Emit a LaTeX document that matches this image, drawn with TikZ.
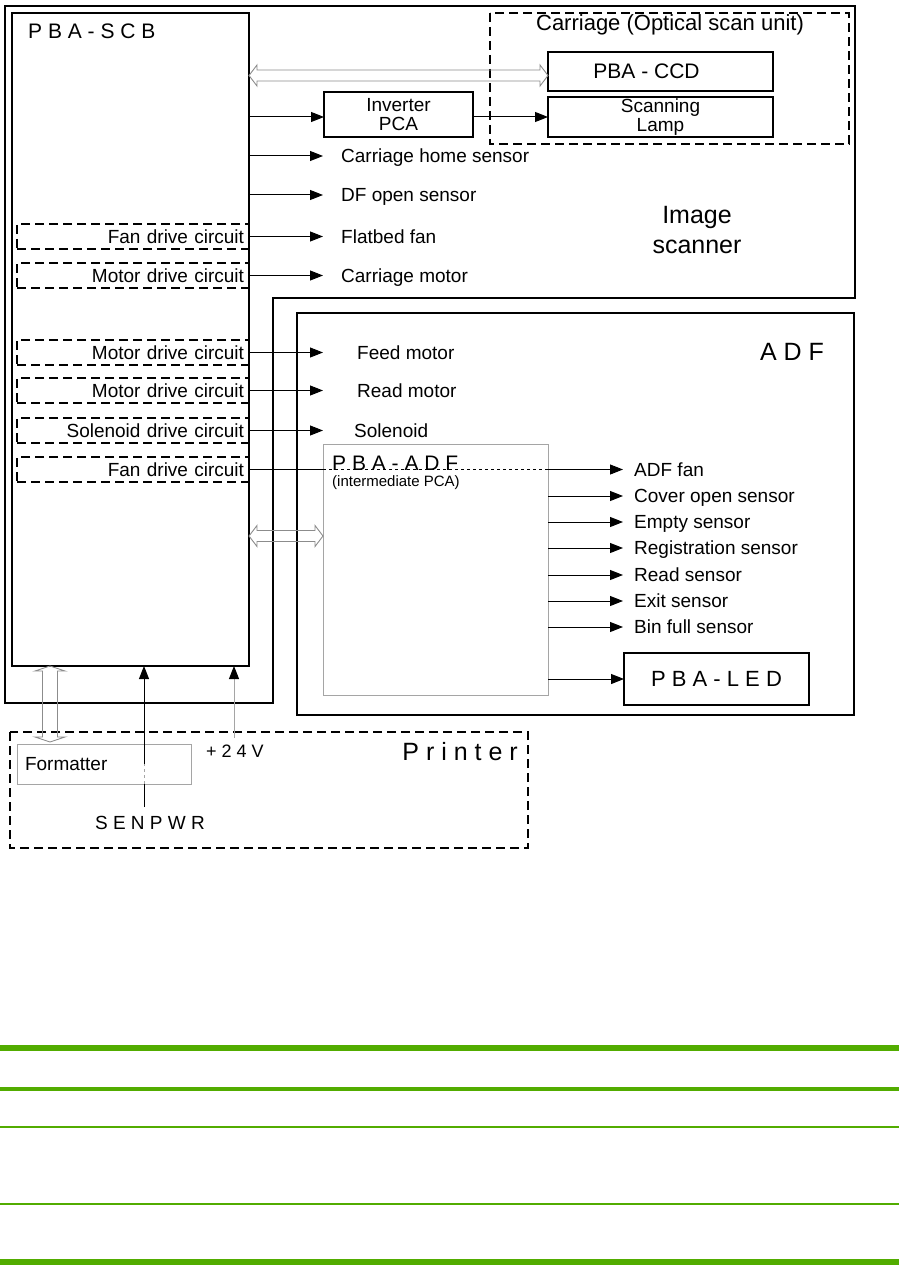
\documentclass[tikz,border=0pt]{standalone}
\usepackage{fontspec}
\setmainfont{Liberation Sans}
\usetikzlibrary{arrows.meta,calc,positioning}

\definecolor{hpgreen}{RGB}{82,172,0}
\definecolor{busgray}{RGB}{140,140,140}
\definecolor{pcbgray}{RGB}{165,165,165}

\newcommand{\sigfont}{\fontsize{19}{19}\selectfont}
\newcommand{\titlefont}{\fontsize{21}{21}\selectfont}
\newcommand{\capfont}{\fontsize{22}{22}\selectfont}
\newcommand{\headfont}{\fontsize{25}{30}\selectfont}
\newcommand{\notefont}{\fontsize{15}{15}\selectfont}

% hollow bus arrows (outline only)
\newcommand{\hbus}[2]{%
  \draw[bus] let \p1=(#1), \p2=(#2) in
    (\x1,\y1) -- (\x1+8pt,\y1+10.5pt) -- (\x1+8pt,\y1+5.5pt) -- (\x2-8pt,\y1+5.5pt)
    -- (\x2-8pt,\y1+10.5pt) -- (\x2,\y1) -- (\x2-8pt,\y1-10.5pt) -- (\x2-8pt,\y1-5.5pt)
    -- (\x1+8pt,\y1-5.5pt) -- (\x1+8pt,\y1-10.5pt) -- cycle;}
\newcommand{\vbus}[2]{%
  \draw[bus] let \p1=(#1), \p2=(#2) in
    (\x1,\y1) -- (\x1+15pt,\y1-5pt) -- (\x1+7.5pt,\y1-5pt) -- (\x1+7.5pt,\y2+5pt)
    -- (\x1+15pt,\y2+5pt) -- (\x1,\y2) -- (\x1-15pt,\y2+5pt) -- (\x1-7.5pt,\y2+5pt)
    -- (\x1-7.5pt,\y1-5pt) -- (\x1-15pt,\y1-5pt) -- cycle;}

\tikzset{
  frame/.style={line width=2.6pt},
  dashframe/.style={line width=1.8pt, dash pattern=on 9pt off 5pt},
  box/.style={draw, line width=1.2pt, inner sep=0pt, outer sep=0pt, align=center,
    anchor=north west, font=\sigfont},
  pcb/.style={draw=pcbgray, line width=1pt, inner sep=0pt, outer sep=0pt, anchor=north west},
  drvbox/.style={draw, line width=1.8pt, dash pattern=on 9pt off 5pt, anchor=north west,
    outer sep=0pt, minimum width=232pt, minimum height=25pt, text width=222pt,
    inner xsep=5pt, inner ysep=0pt, align=right, font=\sigfont},
  lbl/.style={anchor=west, inner sep=0pt, font=\sigfont, text height=13.6pt, text depth=0pt},
  sig/.style={line width=1pt, -{Triangle[length=13pt,width=10pt]}},
  pwr/.style={draw=pcbgray, line width=1pt, -{Triangle[length=13pt,width=10pt,color=black]}},
  bus/.style={draw=busgray, line width=0.9pt},
}

\begin{document}
\begin{tikzpicture}[x=1pt,y=-1pt]
    \useasboundingbox (0,0) rectangle (899,1265);

    % Frames
    \draw[frame] (5,6) -- (855,6) -- (855,298) -- (273,298) -- (273,703) -- (5,703) -- cycle;
    \draw[frame] (297,313) rectangle (854,715);
    \draw[dashframe] (490,13) rectangle (849,144);
    \draw[dashframe] (10,732) rectangle (528,848);

    % Image scanner side
    \node[box, minimum width=237pt, minimum height=653pt] (scb) at (12,13) {};
    \node[anchor=west, inner sep=0pt, font=\titlefont] (scbtitle) at (28,31) {P B A - S C B};
    \node[font=\capfont] (carrtitle) at (670,25) {Carriage (Optical scan unit)};
    \node[box, minimum width=225pt, minimum height=39pt] (ccd) at (548,52) {};
    \node[inner sep=0pt, font=\titlefont] (ccdtext) at ($(ccd.center)+(-14,0)$) {PBA - CCD};
    \node[box, minimum width=225pt, minimum height=40pt] (lamp) at (548,97) {Scanning\\Lamp};
    \node[box, minimum width=149pt, minimum height=45pt] (inverter) at (324,92) {Inverter\\PCA};
    \node[font=\headfont, align=center] (scannerlbl) at (697,230) {Image\\scanner};

    \node[drvbox] (fan1) at (17,224) {Fan drive circuit};
    \node[drvbox] (motor1) at (17,263) {Motor drive circuit};
    \node[drvbox] (motor2) at (17,340) {Motor drive circuit};
    \node[drvbox] (motor3) at (17,378) {Motor drive circuit};
    \node[drvbox] (solenoid) at (17,418) {Solenoid drive circuit};
    \node[drvbox] (fan2) at (17,457) {Fan drive circuit};

    \node[lbl] (homesens) at (341,156) {Carriage home sensor};
    \node[lbl] (dfsens) at (341,195) {DF open sensor};
    \node[lbl] (flatfan) at (341,236.5) {Flatbed fan};
    \node[lbl] (carrmotor) at (341,275.5) {Carriage motor};

    % ADF side
    \node[font=\headfont] (adflbl) at (792,352) {A D F};
    \node[lbl] (feedmotor) at (357,352.5) {Feed motor};
    \node[lbl] (readmotor) at (357,390.5) {Read motor};
    \node[lbl] (solenoidlbl) at (354,430.5) {Solenoid};
    \node[pcb, minimum width=225pt, minimum height=251pt] (adfpcb) at (323,444) {};
    \node[anchor=west, inner sep=0pt, font=\titlefont] (adftitle) at (332,463) {P B A - A D F};
    \node[anchor=west, inner sep=0pt, font=\notefont] (adfnote) at (332,483) {(intermediate PCA)};

    \node[lbl] (adffan) at (634,469.5) {ADF fan};
    \node[lbl] (coversens) at (634,496) {Cover open sensor};
    \node[lbl] (emptysens) at (634,522) {Empty sensor};
    \node[lbl] (regsens) at (634,548) {Registration sensor};
    \node[lbl] (readsens) at (634,575) {Read sensor};
    \node[lbl] (exitsens) at (634,601) {Exit sensor};
    \node[lbl] (binsens) at (634,627) {Bin full sensor};
    \node[box, minimum width=185pt, minimum height=52pt, font=\capfont] (led) at (624,653) {P B A - L E D};

    % Printer side
    \node[pcb, minimum width=174pt, minimum height=40pt, text width=158pt, inner xsep=8pt,
          align=left, font=\sigfont] (formatter) at (17,744) {Formatter};
    \node[anchor=east, inner sep=0pt, font=\headfont] (prnlbl) at (518,752) {P r i n t e r};
    \node[anchor=west, inner sep=0pt, font=\fontsize{18}{18}\selectfont] (v24) at (206,751) {+ 2 4 V};
    \node[font=\sigfont] (senpwr) at (150,823) {S E N P W R};

    % Signals from PBA-SCB
    \draw[sig] (scb.east |- lamp.west) -- (inverter.west |- lamp.west);
    \draw[sig] (inverter.east |- lamp.west) -- (lamp.west);
    \draw[sig, shorten >=18pt] (scb.east |- homesens) -- (homesens.west);
    \draw[sig, shorten >=18pt] (scb.east |- dfsens) -- (dfsens.west);
    \draw[sig, shorten >=18pt] (fan1.east) -- (flatfan.west |- fan1.east);
    \draw[sig, shorten >=18pt] (motor1.east) -- (carrmotor.west |- motor1.east);
    \draw[sig, shorten >=34pt] (motor2.east) -- (feedmotor.west |- motor2.east);
    \draw[sig, shorten >=34pt] (motor3.east) -- (readmotor.west |- motor3.east);
    \draw[sig, shorten >=31pt] (solenoid.east) -- (solenoidlbl.west |- solenoid.east);
    \draw[line width=1pt] (fan2.east) -- (fan2.east -| adfpcb.west);
    \draw[line width=0.6pt, dashed] (fan2.east -| adfpcb.west) -- (fan2.east -| adfpcb.east);
    \draw[sig, shorten >=11pt] (fan2.east -| adfpcb.east) -- (adffan.west |- fan2.east);

    % Signals from PBA-ADF
    \foreach \s in {coversens, emptysens, regsens, readsens, exitsens, binsens}
        \draw[sig, shorten >=11pt] (adfpcb.east |- \s.west) -- (\s.west);
    \draw[sig] (adfpcb.east |- led.west) -- (led.west);

    % Power and SENPWR
    \coordinate (senpwrend) at (144,807);
    \draw[line width=1pt] (senpwrend) -- (senpwrend |- formatter.south);
    \draw[pcbgray, line width=1pt, dashed] (senpwrend |- formatter.south) -- (senpwrend |- formatter.center);
    \draw[sig] (senpwrend |- formatter.center) -- (senpwrend |- scb.south);
    \coordinate (v24end) at (234,738);
    \draw[pwr] (v24end) -- (v24end |- scb.south);

    % Buses
    \coordinate (ccdport) at ($(ccd.west)+(0,4)$);
    \coordinate (adfport) at ($(adfpcb.north west)+(0,92)$);
    \coordinate (fmtport) at ($(formatter.north west)+(33,-2)$);
    \hbus{scb.east |- ccdport}{ccdport}
    \hbus{scb.east |- adfport}{adfport}
    \vbus{scb.south -| fmtport}{fmtport}

    % Rules below
    \foreach \y/\w in {1048/6, 1089/4, 1127/1.5, 1204/1.5, 1262/6}
        \draw[hpgreen, line width=\w pt] (0,\y) -- (899,\y);

\end{tikzpicture}
\end{document}
